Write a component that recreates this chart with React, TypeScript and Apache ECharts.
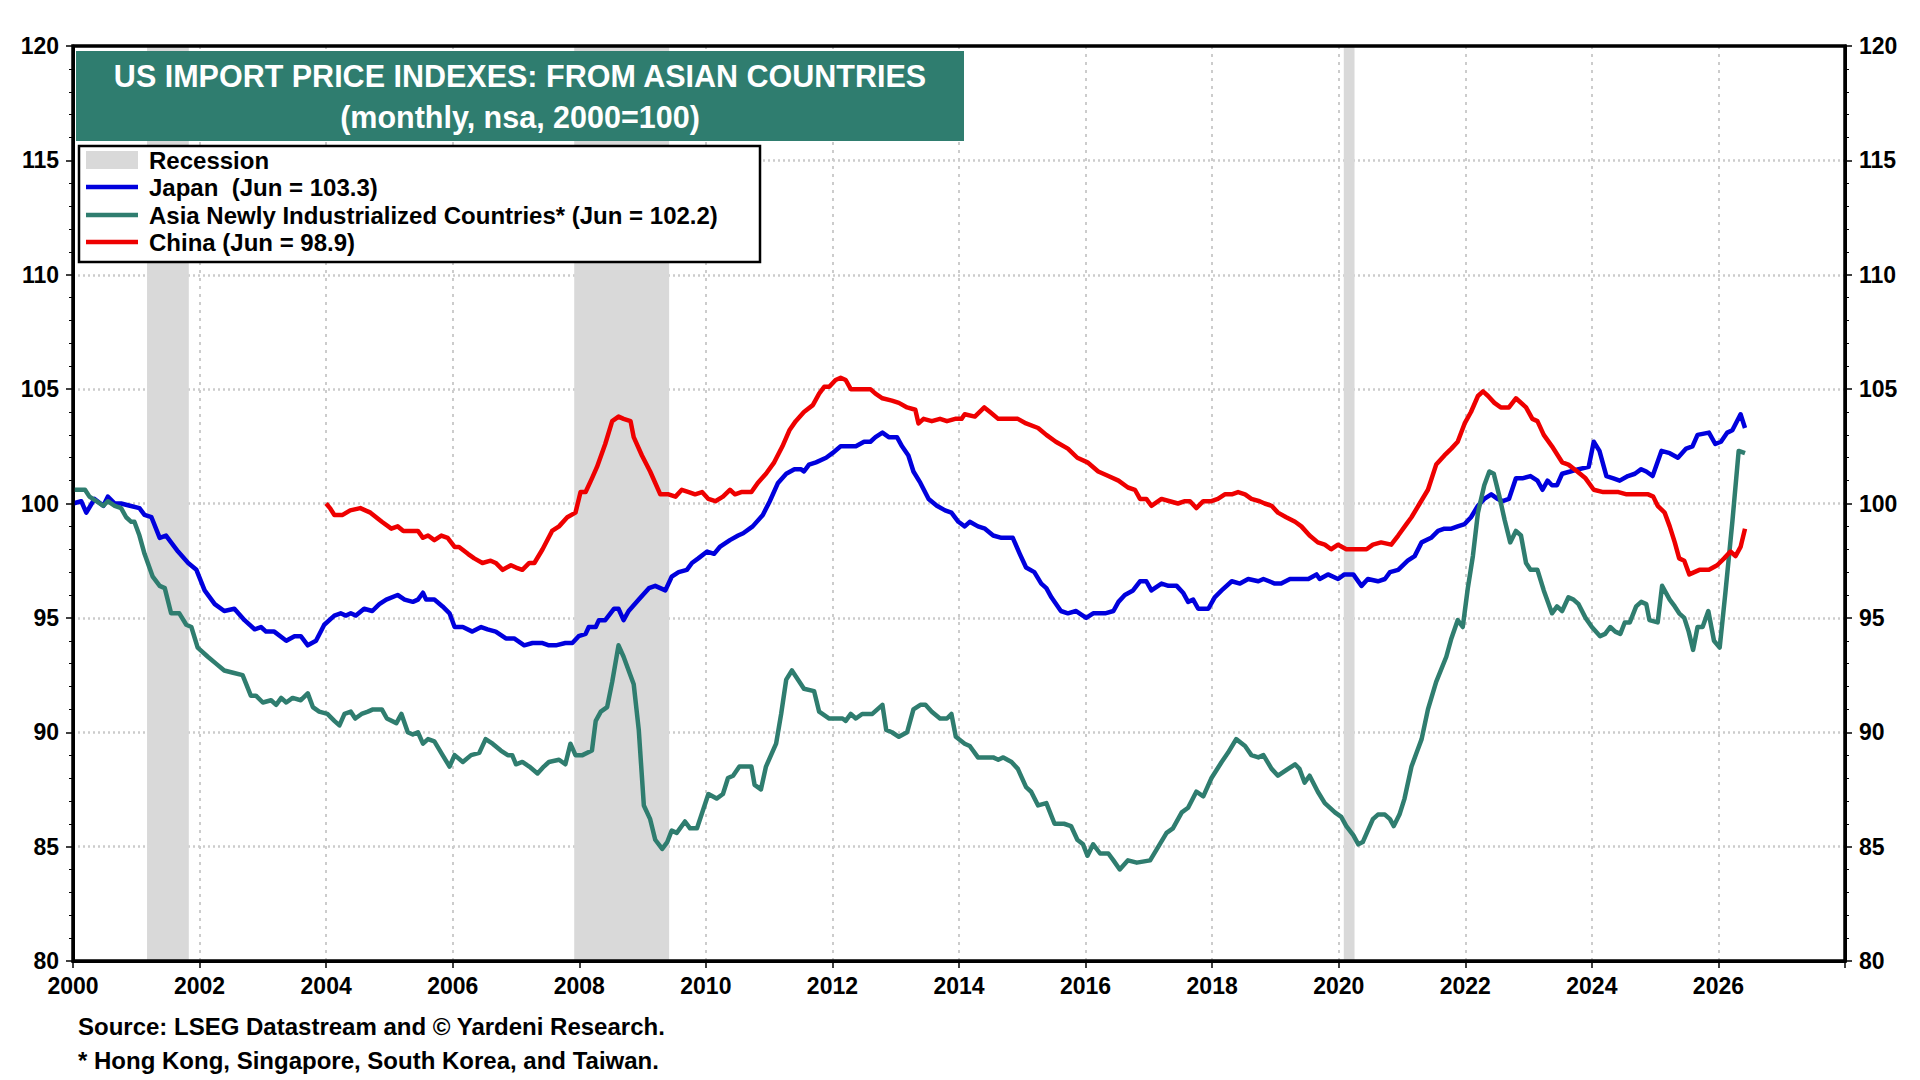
import React, { useEffect, useRef } from "react";
import * as echarts from "echarts";

const FONT = "'Liberation Sans', Arial, Helvetica, sans-serif";

const titleLines = ["US IMPORT PRICE INDEXES: FROM ASIAN COUNTRIES", "(monthly, nsa, 2000=100)"];
const legendLabels = [
  "Recession",
  "Japan  (Jun = 103.3)",
  "Asia Newly Industrialized Countries* (Jun = 102.2)",
  "China (Jun = 98.9)",
];
const footnotes = [
  "Source: LSEG Datastream and \u00A9 Yardeni Research.",
  "* Hong Kong, Singapore, South Korea, and Taiwan.",
];

const recessions: [number, number][] = [
  [2001.17, 2001.83],
  [2007.92, 2009.42],
  [2020.08, 2020.25],
];

const japan: [number, number][] = [
  [2000.0, 100.0], [2000.13, 100.1], [2000.21, 99.6], [2000.34, 100.2], [2000.48, 99.9], [2000.55, 100.3],
  [2000.66, 100.0], [2000.76, 100.0], [2000.9, 99.9], [2001.05, 99.8], [2001.13, 99.5], [2001.24, 99.4],
  [2001.37, 98.5], [2001.47, 98.6], [2001.66, 97.9], [2001.82, 97.4], [2001.95, 97.1], [2002.08, 96.2],
  [2002.24, 95.6], [2002.39, 95.3], [2002.55, 95.4], [2002.71, 94.9], [2002.87, 94.5], [2002.97, 94.6],
  [2003.05, 94.4], [2003.18, 94.4], [2003.37, 94.0], [2003.5, 94.2], [2003.6, 94.2], [2003.71, 93.8],
  [2003.84, 94.0], [2003.97, 94.7], [2004.13, 95.1], [2004.23, 95.2], [2004.31, 95.1], [2004.39, 95.2],
  [2004.47, 95.1], [2004.6, 95.4], [2004.73, 95.3], [2004.84, 95.6], [2004.95, 95.8], [2005.13, 96.0],
  [2005.24, 95.8], [2005.37, 95.7], [2005.45, 95.8], [2005.53, 96.1], [2005.58, 95.8], [2005.71, 95.8],
  [2005.84, 95.5], [2005.95, 95.2], [2006.03, 94.6], [2006.16, 94.6], [2006.31, 94.4], [2006.45, 94.6],
  [2006.55, 94.5], [2006.68, 94.4], [2006.84, 94.1], [2006.97, 94.1], [2007.13, 93.8], [2007.26, 93.9],
  [2007.42, 93.9], [2007.52, 93.8], [2007.63, 93.8], [2007.78, 93.9], [2007.89, 93.9], [2007.99, 94.2],
  [2008.1, 94.3], [2008.15, 94.6], [2008.26, 94.6], [2008.31, 94.9], [2008.41, 94.9], [2008.55, 95.4],
  [2008.62, 95.4], [2008.7, 94.9], [2008.78, 95.3], [2008.94, 95.8], [2009.1, 96.3], [2009.2, 96.4],
  [2009.36, 96.2], [2009.46, 96.8], [2009.57, 97.0], [2009.7, 97.1], [2009.78, 97.4], [2009.88, 97.6],
  [2010.02, 97.9], [2010.13, 97.8], [2010.22, 98.1], [2010.38, 98.4], [2010.51, 98.6], [2010.59, 98.7],
  [2010.74, 99.0], [2010.9, 99.5], [2011.01, 100.1], [2011.14, 100.9], [2011.27, 101.3], [2011.4, 101.5],
  [2011.5, 101.5], [2011.55, 101.4], [2011.63, 101.7], [2011.74, 101.8], [2011.9, 102.0], [2012.0, 102.2],
  [2012.13, 102.5], [2012.37, 102.5], [2012.5, 102.7], [2012.6, 102.7], [2012.68, 102.9], [2012.79, 103.1],
  [2012.89, 102.9], [2013.02, 102.9], [2013.1, 102.5], [2013.2, 102.1], [2013.28, 101.4], [2013.39, 100.9],
  [2013.52, 100.2], [2013.65, 99.9], [2013.78, 99.7], [2013.88, 99.6], [2013.99, 99.2], [2014.09, 99.0],
  [2014.17, 99.2], [2014.3, 99.0], [2014.41, 98.9], [2014.54, 98.6], [2014.67, 98.5], [2014.85, 98.5],
  [2014.96, 97.8], [2015.06, 97.2], [2015.19, 97.0], [2015.3, 96.5], [2015.38, 96.3], [2015.46, 95.9],
  [2015.61, 95.3], [2015.72, 95.2], [2015.85, 95.3], [2016.01, 95.0], [2016.12, 95.2], [2016.31, 95.2],
  [2016.44, 95.3], [2016.52, 95.7], [2016.62, 96.0], [2016.75, 96.2], [2016.86, 96.6], [2016.96, 96.6],
  [2017.04, 96.2], [2017.2, 96.5], [2017.31, 96.4], [2017.44, 96.4], [2017.54, 96.1], [2017.62, 95.7],
  [2017.7, 95.8], [2017.78, 95.4], [2017.94, 95.4], [2018.04, 95.9], [2018.15, 96.2], [2018.31, 96.6],
  [2018.44, 96.5], [2018.57, 96.7], [2018.73, 96.6], [2018.81, 96.7], [2018.99, 96.5], [2019.09, 96.5],
  [2019.23, 96.7], [2019.52, 96.7], [2019.65, 96.9], [2019.7, 96.7], [2019.83, 96.9], [2019.99, 96.7],
  [2020.09, 96.9], [2020.23, 96.9], [2020.36, 96.4], [2020.46, 96.7], [2020.62, 96.6], [2020.73, 96.7],
  [2020.81, 97.0], [2020.94, 97.1], [2021.09, 97.5], [2021.2, 97.7], [2021.31, 98.3], [2021.46, 98.5],
  [2021.57, 98.8], [2021.67, 98.9], [2021.78, 98.9], [2021.88, 99.0], [2021.99, 99.1], [2022.09, 99.4],
  [2022.2, 99.9], [2022.3, 100.2], [2022.41, 100.4], [2022.51, 100.2], [2022.59, 100.1], [2022.69, 100.2],
  [2022.8, 101.1], [2022.9, 101.1], [2023.03, 101.2], [2023.14, 101.0], [2023.22, 100.6], [2023.3, 101.0],
  [2023.37, 100.8], [2023.45, 100.8], [2023.53, 101.3], [2023.66, 101.4], [2023.79, 101.5], [2023.95, 101.6],
  [2024.03, 102.7], [2024.12, 102.3], [2024.23, 101.2], [2024.34, 101.1], [2024.44, 101.0], [2024.57, 101.2],
  [2024.68, 101.3], [2024.78, 101.5], [2024.86, 101.4], [2024.96, 101.2], [2025.1, 102.3], [2025.23, 102.2],
  [2025.36, 102.0], [2025.49, 102.4], [2025.59, 102.5], [2025.67, 103.0], [2025.85, 103.1], [2025.95, 102.6],
  [2026.04, 102.7], [2026.14, 103.1], [2026.22, 103.2], [2026.35, 103.9], [2026.42, 103.3],
];

const asiaNic: [number, number][] = [
  [2000.0, 100.6], [2000.19, 100.6], [2000.26, 100.3], [2000.37, 100.1], [2000.48, 99.9], [2000.55, 100.1],
  [2000.66, 99.9], [2000.76, 99.8], [2000.84, 99.4], [2000.92, 99.2], [2000.97, 99.2], [2001.05, 98.6],
  [2001.13, 97.8], [2001.26, 96.8], [2001.37, 96.4], [2001.45, 96.3], [2001.55, 95.2], [2001.68, 95.2],
  [2001.79, 94.7], [2001.87, 94.6], [2001.97, 93.7], [2002.13, 93.3], [2002.26, 93.0], [2002.39, 92.7],
  [2002.53, 92.6], [2002.68, 92.5], [2002.81, 91.6], [2002.89, 91.6], [2003.0, 91.3], [2003.13, 91.4],
  [2003.21, 91.2], [2003.29, 91.5], [2003.37, 91.3], [2003.47, 91.5], [2003.6, 91.4], [2003.71, 91.7],
  [2003.79, 91.1], [2003.89, 90.9], [2004.02, 90.8], [2004.13, 90.5], [2004.21, 90.3], [2004.29, 90.8],
  [2004.39, 90.9], [2004.46, 90.6], [2004.56, 90.8], [2004.66, 90.9], [2004.74, 91.0], [2004.88, 91.0],
  [2004.96, 90.6], [2005.11, 90.4], [2005.19, 90.8], [2005.29, 90.0], [2005.37, 89.9], [2005.45, 90.0],
  [2005.53, 89.5], [2005.61, 89.7], [2005.71, 89.6], [2005.84, 89.0], [2005.95, 88.5], [2006.03, 89.0],
  [2006.16, 88.7], [2006.29, 89.0], [2006.42, 89.1], [2006.52, 89.7], [2006.63, 89.5], [2006.76, 89.2],
  [2006.87, 89.0], [2006.94, 89.0], [2007.0, 88.6], [2007.1, 88.7], [2007.21, 88.5], [2007.34, 88.2],
  [2007.44, 88.5], [2007.52, 88.7], [2007.68, 88.8], [2007.78, 88.6], [2007.86, 89.5], [2007.94, 89.0],
  [2008.05, 89.0], [2008.2, 89.2], [2008.26, 90.5], [2008.34, 90.9], [2008.44, 91.1], [2008.52, 92.2],
  [2008.62, 93.8], [2008.7, 93.3], [2008.86, 92.1], [2008.94, 90.1], [2009.02, 86.8], [2009.12, 86.2],
  [2009.2, 85.3], [2009.31, 84.9], [2009.39, 85.2], [2009.46, 85.7], [2009.54, 85.6], [2009.67, 86.1],
  [2009.75, 85.8], [2009.86, 85.8], [2010.04, 87.3], [2010.17, 87.1], [2010.27, 87.3], [2010.35, 88.0],
  [2010.43, 88.1], [2010.53, 88.5], [2010.72, 88.5], [2010.77, 87.7], [2010.87, 87.5], [2010.95, 88.5],
  [2011.11, 89.5], [2011.19, 90.8], [2011.27, 92.3], [2011.36, 92.7], [2011.48, 92.2], [2011.55, 91.9],
  [2011.71, 91.8], [2011.79, 90.9], [2011.95, 90.6], [2012.16, 90.6], [2012.21, 90.5], [2012.29, 90.8],
  [2012.37, 90.6], [2012.47, 90.8], [2012.63, 90.8], [2012.71, 91.0], [2012.79, 91.2], [2012.85, 90.1],
  [2012.94, 90.0], [2013.05, 89.8], [2013.18, 90.0], [2013.28, 91.0], [2013.39, 91.2], [2013.47, 91.2],
  [2013.57, 90.9], [2013.7, 90.6], [2013.81, 90.6], [2013.88, 90.8], [2013.95, 89.8], [2014.09, 89.5],
  [2014.17, 89.4], [2014.3, 88.9], [2014.54, 88.9], [2014.62, 88.8], [2014.7, 88.9], [2014.83, 88.7],
  [2014.93, 88.4], [2015.06, 87.6], [2015.14, 87.4], [2015.25, 86.8], [2015.38, 86.9], [2015.51, 86.0],
  [2015.66, 86.0], [2015.77, 85.9], [2015.87, 85.3], [2015.96, 85.1], [2016.03, 84.6], [2016.12, 85.1],
  [2016.23, 84.7], [2016.36, 84.7], [2016.44, 84.4], [2016.54, 84.0], [2016.67, 84.4], [2016.81, 84.3],
  [2017.02, 84.4], [2017.15, 85.0], [2017.28, 85.6], [2017.38, 85.8], [2017.52, 86.5], [2017.62, 86.7],
  [2017.75, 87.4], [2017.86, 87.2], [2017.99, 88.0], [2018.15, 88.7], [2018.25, 89.1], [2018.38, 89.7],
  [2018.52, 89.4], [2018.62, 89.0], [2018.73, 88.9], [2018.81, 89.0], [2018.94, 88.4], [2019.04, 88.1],
  [2019.2, 88.4], [2019.31, 88.6], [2019.38, 88.4], [2019.46, 87.8], [2019.54, 88.1], [2019.67, 87.4],
  [2019.78, 86.9], [2019.94, 86.5], [2020.04, 86.3], [2020.12, 85.9], [2020.23, 85.5], [2020.31, 85.1],
  [2020.38, 85.2], [2020.46, 85.7], [2020.54, 86.2], [2020.62, 86.4], [2020.73, 86.4], [2020.81, 86.2],
  [2020.87, 85.9], [2020.96, 86.4], [2021.04, 87.1], [2021.15, 88.5], [2021.23, 89.1], [2021.31, 89.7],
  [2021.41, 91.0], [2021.54, 92.2], [2021.7, 93.3], [2021.78, 94.1], [2021.88, 94.9], [2021.96, 94.6],
  [2022.04, 96.3], [2022.12, 97.7], [2022.2, 99.6], [2022.3, 100.8], [2022.38, 101.4], [2022.45, 101.3],
  [2022.54, 100.3], [2022.62, 99.3], [2022.71, 98.3], [2022.8, 98.8], [2022.88, 98.6], [2022.96, 97.4],
  [2023.03, 97.1], [2023.14, 97.1], [2023.24, 96.2], [2023.37, 95.2], [2023.45, 95.5], [2023.53, 95.3],
  [2023.63, 95.9], [2023.71, 95.8], [2023.79, 95.6], [2023.9, 95.0], [2024.0, 94.6], [2024.13, 94.2],
  [2024.21, 94.3], [2024.29, 94.6], [2024.37, 94.4], [2024.45, 94.3], [2024.52, 94.8], [2024.6, 94.8],
  [2024.7, 95.5], [2024.78, 95.7], [2024.86, 95.6], [2024.91, 94.9], [2025.04, 94.8], [2025.11, 96.4],
  [2025.23, 95.8], [2025.31, 95.5], [2025.38, 95.2], [2025.46, 95.0], [2025.53, 94.4], [2025.6, 93.6],
  [2025.67, 94.6], [2025.75, 94.6], [2025.84, 95.3], [2025.93, 94.0], [2026.02, 93.7], [2026.11, 96.1],
  [2026.22, 99.2], [2026.32, 102.3], [2026.42, 102.2],
];

const china: [number, number][] = [
  [2004.0, 100.0], [2004.06, 99.8], [2004.13, 99.5], [2004.26, 99.5], [2004.38, 99.7], [2004.54, 99.8],
  [2004.7, 99.6], [2004.88, 99.2], [2005.03, 98.9], [2005.13, 99.0], [2005.22, 98.8], [2005.34, 98.8],
  [2005.45, 98.8], [2005.53, 98.5], [2005.61, 98.6], [2005.71, 98.4], [2005.82, 98.6], [2005.92, 98.5],
  [2006.03, 98.1], [2006.1, 98.1], [2006.24, 97.8], [2006.34, 97.6], [2006.47, 97.4], [2006.6, 97.5],
  [2006.68, 97.4], [2006.79, 97.1], [2006.92, 97.3], [2007.0, 97.2], [2007.1, 97.1], [2007.21, 97.4],
  [2007.29, 97.4], [2007.42, 98.0], [2007.57, 98.8], [2007.68, 99.0], [2007.81, 99.4], [2007.94, 99.6],
  [2008.02, 100.5], [2008.1, 100.5], [2008.2, 101.1], [2008.28, 101.6], [2008.41, 102.6], [2008.52, 103.6],
  [2008.62, 103.8], [2008.7, 103.7], [2008.81, 103.6], [2008.86, 102.9], [2008.99, 102.1], [2009.12, 101.4],
  [2009.28, 100.4], [2009.41, 100.4], [2009.52, 100.3], [2009.62, 100.6], [2009.73, 100.5], [2009.83, 100.4],
  [2009.94, 100.5], [2010.04, 100.2], [2010.15, 100.1], [2010.27, 100.3], [2010.38, 100.6], [2010.46, 100.4],
  [2010.56, 100.5], [2010.72, 100.5], [2010.82, 100.9], [2010.95, 101.3], [2011.08, 101.8], [2011.21, 102.5],
  [2011.32, 103.2], [2011.42, 103.6], [2011.55, 104.0], [2011.69, 104.3], [2011.79, 104.8], [2011.87, 105.1],
  [2011.95, 105.1], [2012.05, 105.4], [2012.13, 105.5], [2012.21, 105.4], [2012.29, 105.0], [2012.42, 105.0],
  [2012.6, 105.0], [2012.68, 104.8], [2012.79, 104.6], [2012.94, 104.5], [2013.05, 104.4], [2013.18, 104.2],
  [2013.31, 104.1], [2013.36, 103.5], [2013.44, 103.7], [2013.57, 103.6], [2013.7, 103.7], [2013.81, 103.6],
  [2013.94, 103.7], [2014.04, 103.7], [2014.09, 103.9], [2014.25, 103.8], [2014.4, 104.2], [2014.49, 104.0],
  [2014.62, 103.7], [2014.8, 103.7], [2014.93, 103.7], [2015.06, 103.5], [2015.25, 103.3], [2015.38, 103.0],
  [2015.53, 102.7], [2015.72, 102.4], [2015.87, 102.0], [2016.03, 101.8], [2016.2, 101.4], [2016.36, 101.2],
  [2016.52, 101.0], [2016.67, 100.7], [2016.78, 100.6], [2016.86, 100.2], [2016.96, 100.2], [2017.04, 99.9],
  [2017.2, 100.2], [2017.33, 100.1], [2017.46, 100.0], [2017.57, 100.1], [2017.65, 100.1], [2017.75, 99.8],
  [2017.86, 100.1], [2017.99, 100.1], [2018.09, 100.2], [2018.2, 100.4], [2018.31, 100.4], [2018.41, 100.5],
  [2018.52, 100.4], [2018.62, 100.2], [2018.75, 100.1], [2018.83, 100.0], [2018.94, 99.9], [2019.04, 99.6],
  [2019.17, 99.4], [2019.31, 99.2], [2019.41, 99.0], [2019.54, 98.6], [2019.67, 98.3], [2019.78, 98.2],
  [2019.88, 98.0], [2019.99, 98.2], [2020.12, 98.0], [2020.25, 98.0], [2020.44, 98.0], [2020.54, 98.2],
  [2020.67, 98.3], [2020.83, 98.2], [2020.94, 98.6], [2021.07, 99.1], [2021.15, 99.4], [2021.28, 100.0],
  [2021.41, 100.6], [2021.54, 101.7], [2021.67, 102.1], [2021.78, 102.4], [2021.88, 102.7], [2021.99, 103.5],
  [2022.09, 104.0], [2022.2, 104.7], [2022.28, 104.9], [2022.36, 104.7], [2022.46, 104.4], [2022.56, 104.2],
  [2022.69, 104.2], [2022.8, 104.6], [2022.96, 104.2], [2023.06, 103.7], [2023.14, 103.6], [2023.24, 103.0],
  [2023.37, 102.5], [2023.53, 101.8], [2023.63, 101.7], [2023.77, 101.4], [2023.9, 101.1], [2024.03, 100.6],
  [2024.18, 100.5], [2024.42, 100.5], [2024.55, 100.4], [2024.7, 100.4], [2024.89, 100.4], [2024.97, 100.3],
  [2025.04, 99.9], [2025.15, 99.6], [2025.23, 99.0], [2025.31, 98.3], [2025.38, 97.6], [2025.46, 97.5],
  [2025.54, 96.9], [2025.7, 97.1], [2025.85, 97.1], [2025.98, 97.3], [2026.09, 97.6], [2026.19, 97.9],
  [2026.27, 97.7], [2026.35, 98.1], [2026.42, 98.9],
];

const xMin = 2000;
const xMax = 2028;
const yMin = 80;
const yMax = 120;

const COLORS = {
  japan: "#0000dd",
  asia: "#2f7d6f",
  china: "#ee0000",
  recession: "#d9d9d9",
  titleBg: "#2f7d6f",
  grid: "#cccccc",
};

function buildOption(): any {
  const yAxisBase = {
    type: "value",
    min: yMin,
    max: yMax,
    interval: 5,
    axisLine: { show: true, lineStyle: { color: "#000", width: 3 } },
    axisTick: { show: true, length: 7, lineStyle: { color: "#000", width: 1.5 } },
    minorTick: { show: true, splitNumber: 5, length: 4, lineStyle: { color: "#000", width: 1 } },
    axisLabel: {
      color: "#000",
      fontFamily: FONT,
      fontWeight: "bold",
      fontSize: 23,
      margin: 14,
    },
  };

  const legendRowsY = [160, 187, 215, 242];
  const legendColors = [COLORS.recession, COLORS.japan, COLORS.asia, COLORS.china];

  const graphics: any[] = [
    {
      type: "rect",
      z: 100,
      shape: { x: 76, y: 51, width: 888, height: 90 },
      style: { fill: COLORS.titleBg },
    },
    {
      type: "text",
      z: 101,
      style: {
        x: 520,
        y: 76,
        text: titleLines[0],
        fill: "#fff",
        font: `bold 30.5px ${FONT}`,
        textAlign: "center",
        textVerticalAlign: "middle",
      },
    },
    {
      type: "text",
      z: 101,
      style: {
        x: 520,
        y: 117,
        text: titleLines[1],
        fill: "#fff",
        font: `bold 30.5px ${FONT}`,
        textAlign: "center",
        textVerticalAlign: "middle",
      },
    },
    {
      type: "rect",
      z: 100,
      shape: { x: 79, y: 146, width: 681, height: 116 },
      style: { fill: "#fff", stroke: "#000", lineWidth: 2.5 },
    },
  ];

  legendLabels.forEach((label, i) => {
    const cy = legendRowsY[i];
    if (i === 0) {
      graphics.push({
        type: "rect",
        z: 101,
        shape: { x: 86, y: cy - 9, width: 52, height: 18 },
        style: { fill: legendColors[i] },
      });
    } else {
      graphics.push({
        type: "line",
        z: 101,
        shape: { x1: 86, y1: cy, x2: 138, y2: cy },
        style: { stroke: legendColors[i], lineWidth: 4.5 },
      });
    }
    graphics.push({
      type: "text",
      z: 101,
      style: {
        x: 149,
        y: cy,
        text: label,
        fill: "#000",
        font: `bold 24px ${FONT}`,
        textAlign: "left",
        textVerticalAlign: "middle",
      },
    });
  });

  footnotes.forEach((t, i) => {
    graphics.push({
      type: "text",
      z: 101,
      style: {
        x: 78,
        y: 1026 + i * 34,
        text: t,
        fill: "#000",
        font: `bold 24px ${FONT}`,
        textAlign: "left",
        textVerticalAlign: "middle",
      },
    });
  });

  const lineSeries = (name: string, data: [number, number][], color: string) => ({
    name,
    type: "line",
    data,
    showSymbol: false,
    symbol: "none",
    smooth: false,
    lineStyle: { color, width: 4.5, join: "round" },
    itemStyle: { color },
    z: 5,
  });

  return {
    animation: false,
    backgroundColor: "#fff",
    grid: {
      left: 73,
      right: 75,
      top: 46,
      bottom: 119,
      show: true,
      borderColor: "#000",
      borderWidth: 3.5,
      backgroundColor: "transparent",
      z: 10,
    },
    xAxis: {
      type: "value",
      min: xMin,
      max: xMax,
      interval: 2,
      axisLine: { show: true, lineStyle: { color: "#000", width: 3 } },
      axisTick: { show: true, length: 7, lineStyle: { color: "#000", width: 1.5 } },
      axisLabel: {
        color: "#000",
        fontFamily: FONT,
        fontWeight: "bold",
        fontSize: 23,
        margin: 13,
        formatter: (v: number) => (v >= xMax ? "" : String(v)),
      },
      splitLine: {
        show: true,
        showMinLine: false,
        showMaxLine: false,
        lineStyle: { color: COLORS.grid, width: 2, type: [3, 5] },
      },
    },
    yAxis: [
      {
        ...yAxisBase,
        position: "left",
        splitLine: {
          show: true,
          showMinLine: false,
          showMaxLine: false,
          lineStyle: { color: COLORS.grid, width: 2.5, type: [2, 3] },
        },
      },
      {
        ...yAxisBase,
        position: "right",
        splitLine: { show: false },
      },
    ],
    series: [
      {
        name: "Recession",
        type: "line",
        data: [],
        silent: true,
        markArea: {
          silent: true,
          itemStyle: { color: COLORS.recession, opacity: 1 },
          data: recessions.map(([s, e]) => [{ xAxis: s }, { xAxis: e }]),
        },
        z: 1,
      },
      lineSeries(legendLabels[1], japan, COLORS.japan),
      lineSeries(legendLabels[2], asiaNic, COLORS.asia),
      lineSeries(legendLabels[3], china, COLORS.china),
    ],
    graphic: graphics,
  };
}

export default function App() {
  const ref = useRef<HTMLDivElement>(null);
  useEffect(() => {
    if (!ref.current) return;
    const chart = echarts.init(ref.current, null, { renderer: "svg" });
    chart.setOption(buildOption());
    return () => {
      chart.dispose();
    };
  }, []);
  return (
    <div
      ref={ref}
      style={{ position: "fixed", left: 0, top: 0, width: 1920, height: 1080, background: "#fff" }}
    />
  );
}
